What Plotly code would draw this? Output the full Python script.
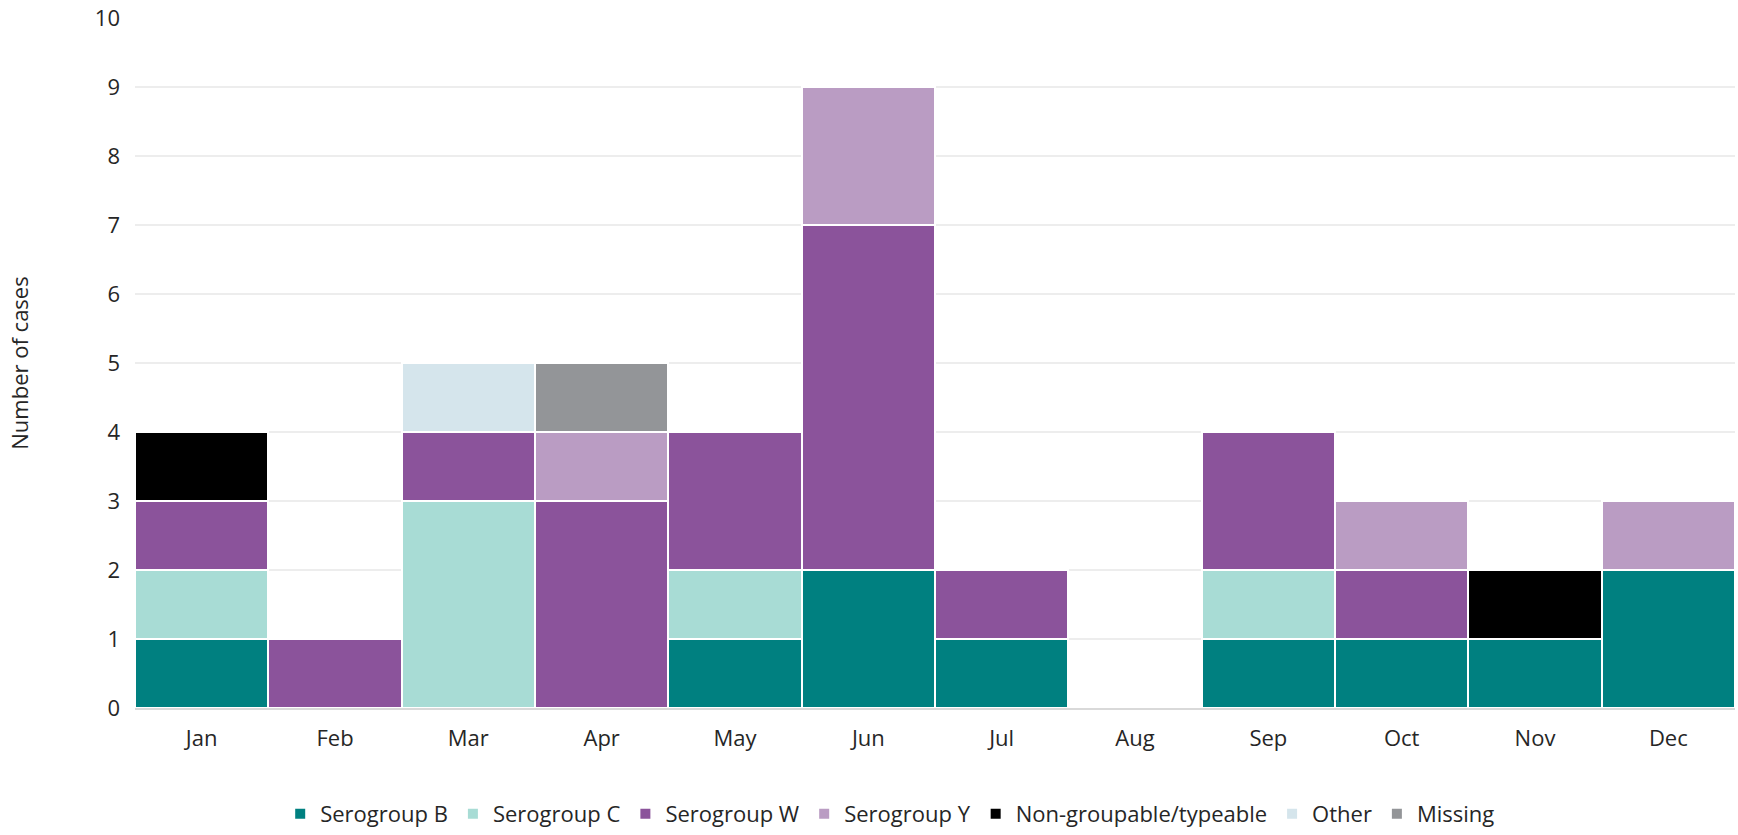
import plotly.graph_objects as go

months = ["Jan", "Feb", "Mar", "Apr", "May", "Jun", "Jul", "Aug", "Sep", "Oct", "Nov", "Dec"]
serogroup_b = [1, 0, 0, 0, 1, 2, 1, 0, 1, 1, 1, 2]
serogroup_c = [1, 0, 3, 0, 1, 0, 0, 0, 1, 0, 0, 0]
serogroup_w = [1, 1, 1, 3, 2, 5, 1, 0, 2, 1, 0, 0]
serogroup_y = [0, 0, 0, 1, 0, 2, 0, 0, 0, 1, 0, 1]
non_groupable = [1, 0, 0, 0, 0, 0, 0, 0, 0, 0, 1, 0]
other = [0, 0, 1, 0, 0, 0, 0, 0, 0, 0, 0, 0]
missing = [0, 0, 0, 1, 0, 0, 0, 0, 0, 0, 0, 0]

series = [
    ("Serogroup B", serogroup_b, "#008080"),
    ("Serogroup C", serogroup_c, "#A8DCD5"),
    ("Serogroup W", serogroup_w, "#8B539B"),
    ("Serogroup Y", serogroup_y, "#BA9CC3"),
    ("Non-groupable/typeable", non_groupable, "#000000"),
    ("Other", other, "#D5E5EC"),
    ("Missing", missing, "#939598"),
]

fig = go.Figure()
for name, vals, color in series:
    fig.add_trace(go.Bar(
        x=months, y=vals, name=name,
        marker=dict(color=color, line=dict(color="white", width=2)),
    ))

font_family = "Open Sans, DejaVu Sans, sans-serif"
fs = 22
fig.update_layout(
    barmode="stack",
    bargap=0,
    width=1738, height=835,
    margin=dict(l=135, r=3, t=18, b=127),
    plot_bgcolor="white",
    paper_bgcolor="white",
    font=dict(family=font_family, size=fs, color="#262626"),
    showlegend=True,
    legend=dict(
        orientation="h", x=0.472, xanchor="center",
        yref="container", y=0.0, yanchor="bottom",
        font=dict(size=fs, color="#262626"), traceorder="normal",
        itemwidth=30,
    ),
    xaxis=dict(
        showgrid=False, showline=True, linecolor="#D9D9D9", linewidth=2,
        ticks="", tickfont=dict(size=fs), ticklabelstandoff=10,
        automargin=False,
    ),
    yaxis=dict(
        range=[0, 10], dtick=1, showgrid=True, gridcolor="#EDEDED", gridwidth=2,
        zeroline=False, showline=False, ticks="", ticklabelstandoff=14,
        tickfont=dict(size=fs), automargin=False,
        title=dict(text="Number of cases", font=dict(size=fs), standoff=60),
    ),
)
fig.write_html("out.html")
